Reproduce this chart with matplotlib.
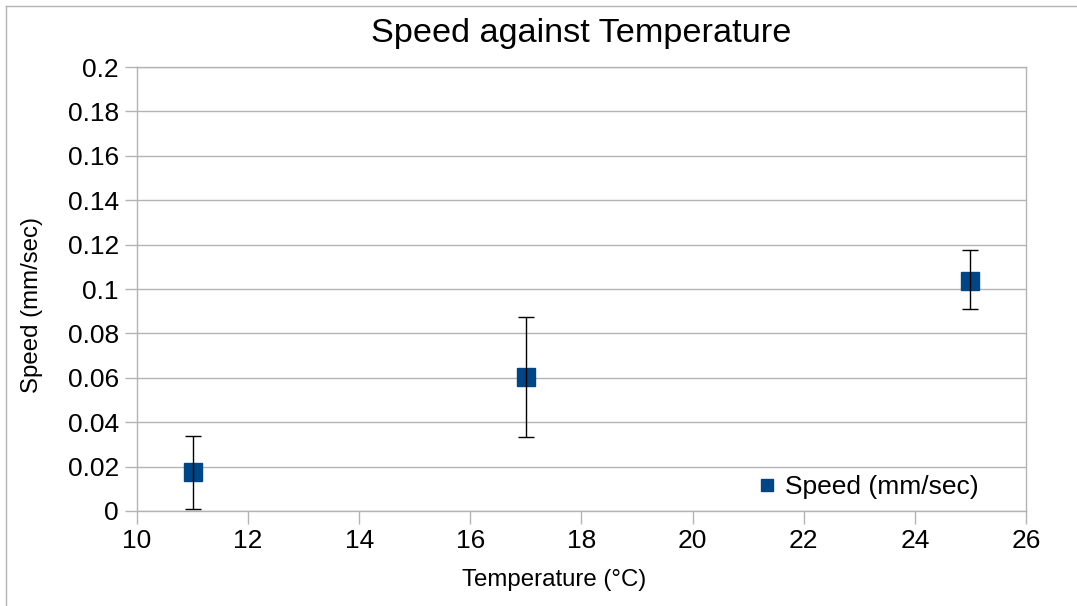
import numpy as np
import matplotlib
matplotlib.use("Agg")
import matplotlib.pyplot as plt
from matplotlib.lines import Line2D

plt.rcParams['font.family'] = ['Liberation Sans', 'DejaVu Sans']

# data
temperature = [11, 17, 25]
speed = [0.0176, 0.0603, 0.1036]
err_low = [0.0167, 0.0270, 0.0126]   # distance down to lower cap
err_high = [0.0163, 0.0271, 0.0140]  # distance up to upper cap

x_ticks = np.arange(10, 27, 2)
y_ticks = np.arange(0, 0.201, 0.02)
y_labels = ['0', '0.02', '0.04', '0.06', '0.08', '0.1', '0.12', '0.14', '0.16', '0.18', '0.2']

blue = '#004586'
grey = '#b3b3b3'

fig = plt.figure(figsize=(10.77, 6.06), dpi=100)
ax = fig.add_axes([0.1272, 0.1568, 0.9526 - 0.1272, 0.8894 - 0.1568])

ax.plot(temperature, speed, 's', color=blue, markersize=13.5, zorder=3,
        label='Speed (mm/sec)')
ax.errorbar(temperature, speed, yerr=[err_low, err_high], fmt='none',
            ecolor='black', elinewidth=1, capsize=5.5, capthick=1, zorder=4)

ax.set_xlim(10, 26)
ax.set_ylim(0, 0.2)
ax.set_xticks(x_ticks)
ax.set_yticks(y_ticks)
ax.set_yticklabels(y_labels)
ax.tick_params(axis='both', direction='out', length=9, width=1, color=grey,
               labelsize=19, pad=4)

ax.yaxis.grid(True, color=grey, linewidth=1)
ax.set_axisbelow(True)
for side in ['left', 'bottom', 'right', 'top']:
    ax.spines[side].set_color(grey)
    ax.spines[side].set_linewidth(1)

ax.set_title('Speed against Temperature', fontsize=24.7, y=1.075, pad=0, va='center')
ax.set_xlabel('Temperature (°C)', fontsize=17.3, va='center')
ax.xaxis.set_label_coords(0.469, -0.155)
ax.set_ylabel('Speed (mm/sec)', fontsize=17.3, va='center')
ax.yaxis.set_label_coords(-0.118, 0.464)

handle = Line2D([], [], marker='s', linestyle='none', color=blue, markersize=9)
ax.legend([handle], ['Speed (mm/sec)'], loc='center right', frameon=False,
          fontsize=19, handlelength=0.6, handletextpad=0.4,
          borderaxespad=0, bbox_to_anchor=(0.959, 0.054))

# thin outer border on the left and top, like the source image
fig.add_artist(Line2D([0.006, 0.006], [0, 0.99], transform=fig.transFigure,
                      color=grey, linewidth=1))
fig.add_artist(Line2D([0.006, 1], [0.99, 0.99], transform=fig.transFigure,
                      color=grey, linewidth=1))

fig.savefig('out.png', dpi=100)
